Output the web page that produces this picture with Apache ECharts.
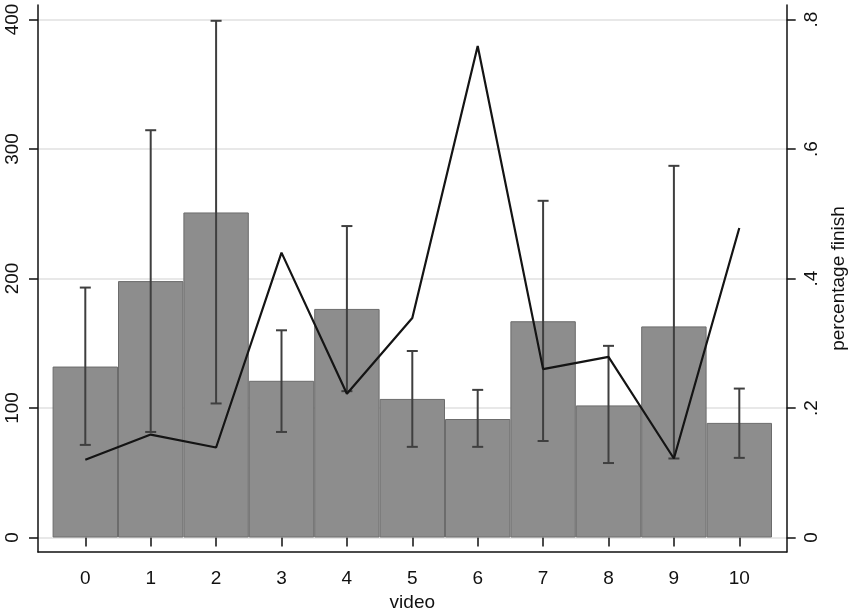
<!DOCTYPE html>
<html>
<head>
<meta charset="utf-8">
<script src="https://cdn.jsdelivr.net/npm/echarts@6/dist/echarts.min.js"></script>
<style>html,body{margin:0;padding:0;background:#fff}#c{width:850px;height:611px}</style>
</head>
<body>
<div id="c"></div>
<script>
var categories = ['0','1','2','3','4','5','6','7','8','9','10'];
var meanDuration = [132, 198, 251, 121, 176.5, 107, 91.5, 167, 102, 163, 88.5];
var ciLow = [71.5, 81.5, 103.5, 81.5, 113, 70, 70, 74.5, 57.5, 61, 61.5];
var ciHigh = [193, 314.5, 399, 160, 240.5, 144, 114, 260, 148, 287, 115];
var pctFinish = [0.12, 0.159, 0.139, 0.44, 0.222, 0.339, 0.759, 0.26, 0.279, 0.122, 0.478];
var leftTicks = [0, 100, 200, 300, 400];
var rightTicks = [0, 0.2, 0.4, 0.6, 0.8];

var FONT = "'Liberation Sans', Arial, sans-serif";
var TXT = '#111';
var chart = echarts.init(document.getElementById('c'), null, {renderer: 'canvas'});

var errData = categories.map(function (c, i) { return [i, ciLow[i], ciHigh[i]]; });

var hidden = {show: false};
var option = {
  backgroundColor: '#fff',
  animation: false,
  grid: [
    {left: 38, right: 63.3, top: 5, bottom: 59, outerBoundsMode: 'none', containLabel: false},
    {left: 38, right: 63.3, top: 19.5, bottom: 73.5, outerBoundsMode: 'none', containLabel: false},
    {left: 52.6, right: 78, top: 19.5, bottom: 73.5, outerBoundsMode: 'none', containLabel: false}
  ],
  xAxis: [
    {gridIndex: 0, type: 'value', min: 0, max: 1, axisLine: {show: true, lineStyle: {color: '#111', width: 1.5}},
     axisTick: hidden, axisLabel: hidden, splitLine: hidden},
    {gridIndex: 1, type: 'value', min: 0, max: 1, show: false},
    {gridIndex: 2, type: 'category', data: categories, boundaryGap: true, offset: 14.5,
     axisLine: hidden,
     axisTick: {show: true, alignWithLabel: true, length: 9, lineStyle: {color: '#111', width: 1.5}},
     axisLabel: {fontFamily: FONT, fontSize: 19, color: TXT, margin: 17, interval: 0},
     splitLine: hidden,
     name: 'video', nameLocation: 'middle', nameGap: 37,
     nameTextStyle: {fontFamily: FONT, fontSize: 19, color: TXT}}
  ],
  yAxis: [
    {gridIndex: 0, type: 'value', min: 0, max: 1, position: 'left',
     axisLine: {show: true, lineStyle: {color: '#111', width: 1.5}}, axisTick: hidden, axisLabel: hidden, splitLine: hidden},
    {gridIndex: 0, type: 'value', min: 0, max: 1, position: 'right',
     axisLine: {show: true, lineStyle: {color: '#111', width: 1.5}}, axisTick: hidden, axisLabel: hidden, splitLine: hidden},
    {gridIndex: 1, type: 'value', min: leftTicks[0], max: leftTicks[leftTicks.length - 1], interval: 100, position: 'left',
     axisLine: hidden,
     axisTick: {show: true, length: 9, lineStyle: {color: '#111', width: 1.5}},
     axisLabel: {rotate: 90, fontFamily: FONT, fontSize: 19, color: TXT, margin: 16},
     splitLine: {show: true, lineStyle: {color: '#e8e8e8', width: 2}}},
    {gridIndex: 1, type: 'value', min: rightTicks[0], max: rightTicks[rightTicks.length - 1], interval: 0.2, position: 'right',
     axisLine: hidden,
     axisTick: {show: true, length: 9, lineStyle: {color: '#111', width: 1.5}},
     axisLabel: {rotate: 90, fontFamily: FONT, fontSize: 19, color: TXT, margin: 16,
       formatter: function (v) { return Math.abs(v) < 1e-9 ? '0' : v.toFixed(1).replace(/^0\./, '.'); }},
     splitLine: hidden,
     name: 'percentage finish', nameLocation: 'middle', nameRotate: 90, nameGap: 38,
     nameTextStyle: {fontFamily: FONT, fontSize: 19, color: TXT}},
    {gridIndex: 2, type: 'value', min: 0, max: 400, show: false},
    {gridIndex: 2, type: 'value', min: 0, max: 0.8, show: false, position: 'right'}
  ],
  series: [
    {type: 'bar', xAxisIndex: 2, yAxisIndex: 4, data: meanDuration, barWidth: '100%', barCategoryGap: '0%',
     itemStyle: {color: '#8d8d8d', borderColor: '#6c6c6c', borderWidth: 1}, z: 2, silent: true},
    {type: 'custom', xAxisIndex: 2, yAxisIndex: 4, data: errData, z: 3, silent: true,
     renderItem: function (params, api) {
       var x = api.value(0);
       var lo = api.coord([x, api.value(1)]);
       var hi = api.coord([x, api.value(2)]);
       var w = 5.5;
       var st = {stroke: '#3f3f3f', lineWidth: 2, fill: null};
       return {type: 'group', children: [
         {type: 'line', shape: {x1: lo[0], y1: lo[1], x2: hi[0], y2: hi[1]}, style: st},
         {type: 'line', shape: {x1: lo[0] - w, y1: lo[1], x2: lo[0] + w, y2: lo[1]}, style: st},
         {type: 'line', shape: {x1: hi[0] - w, y1: hi[1], x2: hi[0] + w, y2: hi[1]}, style: st}
       ]};
     }},
    {type: 'line', xAxisIndex: 2, yAxisIndex: 5, data: pctFinish, symbol: 'none', z: 4, silent: true,
     lineStyle: {color: '#141414', width: 2.2}}
  ]
};
chart.setOption(option);
</script>
</body>
</html>
